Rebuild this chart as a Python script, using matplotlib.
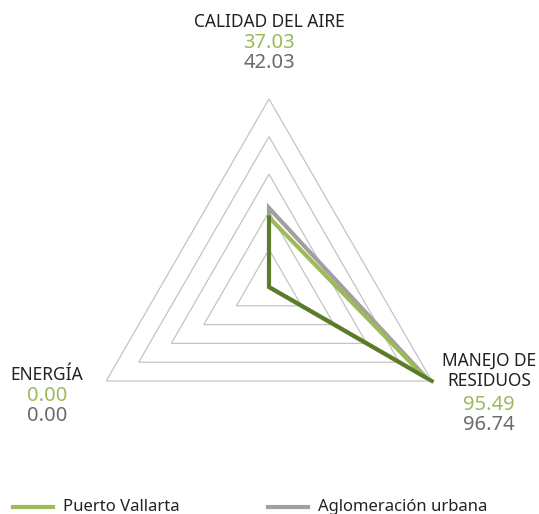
import numpy as np
import matplotlib
matplotlib.use("Agg")
import matplotlib.pyplot as plt
from matplotlib.lines import Line2D

# data
ejes = ["CALIDAD DEL AIRE", "MANEJO DE\nRESIDUOS", "ENERGÍA"]
puerto_vallarta = [37.03, 95.49, 0.00]
aglomeracion = [42.03, 96.74, 0.00]
referencia = [37.03, 100.0, 0.00]   # dark green outline (no legend entry)
niveles = [20, 40, 60, 80, 100]
series_nombres = ["Puerto Vallarta", "Aglomeración urbana"]

verde = "#9bbb59"
gris = "#a0a0a0"
verde_osc = "#5b7a2c"
txt_gris = "#6b6b6b"

plt.rcParams['font.family'] = ['Noto Sans', 'DejaVu Sans']

W, H = 539, 514
fig = plt.figure(figsize=(W / 100, H / 100), dpi=100)
ax = fig.add_axes([0, 0, 1, 1])
s = 1.88  # px per unit
cx, cy = 269, 287
ax.set_xlim(-cx / s, (W - cx) / s)
ax.set_ylim(-(H - cy) / s, cy / s)
ax.axis("off")

ang = np.deg2rad([90, -30, 210])


def xy(vals):
    v = np.array(vals, dtype=float)
    return v * np.cos(ang), v * np.sin(ang)


# grid triangles
for n in niveles:
    x, y = xy([n] * 3)
    ax.fill(x, y, fill=False, edgecolor="#c4c4c4", lw=0.9, zorder=1)

x, y = xy(aglomeracion)
ax.fill(x, y, fill=False, edgecolor=gris, lw=3, joinstyle="miter", zorder=3)
x, y = xy(puerto_vallarta)
ax.fill(x, y, fill=False, edgecolor=verde, lw=3, joinstyle="miter", zorder=4)
x, y = xy(referencia)
ax.plot([x[0], x[2], x[1]], [y[0], y[2], y[1]], color=verde_osc, lw=2.8,
        solid_joinstyle="miter", zorder=5)

fs = 12.5
fn = 14.5
# axis labels with values
ax.text(0, (cy - 22) / s, ejes[0], ha="center", va="center", fontsize=fs, color="#222222")
ax.text(0, (cy - 43) / s, f"{puerto_vallarta[0]:.2f}", ha="center", va="center", fontsize=fn, color=verde)
ax.text(0, (cy - 63) / s, f"{aglomeracion[0]:.2f}", ha="center", va="center", fontsize=fn, color=txt_gris)

rx = (489 - cx) / s
ax.text(rx, (cy - 371) / s, ejes[1], ha="center", va="center", fontsize=fs, color="#222222",
        linespacing=1.15)
ax.text(rx, (cy - 405) / s, f"{puerto_vallarta[1]:.2f}", ha="center", va="center", fontsize=fn, color=verde)
ax.text(rx, (cy - 425) / s, f"{aglomeracion[1]:.2f}", ha="center", va="center", fontsize=fn, color=txt_gris)

lx = (47 - cx) / s
ax.text(lx, (cy - 375) / s, ejes[2], ha="center", va="center", fontsize=fs, color="#222222")
ax.text(lx, (cy - 396) / s, f"{puerto_vallarta[2]:.2f}", ha="center", va="center", fontsize=fn, color=verde)
ax.text(lx, (cy - 416) / s, f"{aglomeracion[2]:.2f}", ha="center", va="center", fontsize=fn, color=txt_gris)

# legend
ly = 1 - 507 / H
for x0, x1, tx, c, nombre in [(13, 53, 63, verde, series_nombres[0]),
                              (268, 308, 318, gris, series_nombres[1])]:
    fig.add_artist(Line2D([x0 / W, x1 / W], [ly, ly], color=c, lw=3))
    fig.text(tx / W, ly, nombre, ha="left", va="center", fontsize=12, color="#222222")

fig.savefig("out.png", dpi=100)
